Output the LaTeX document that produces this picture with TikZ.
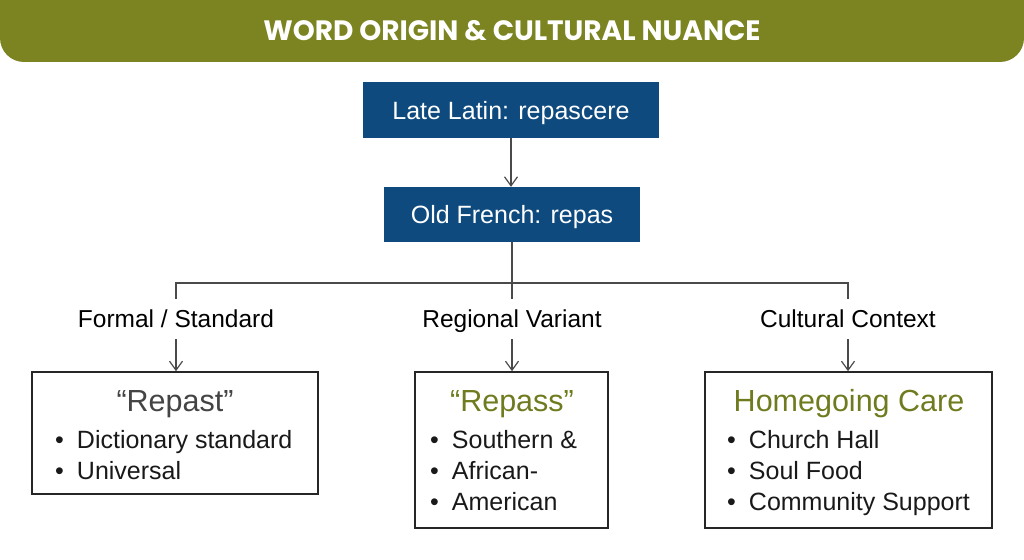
\documentclass[tikz,border=0pt]{standalone}
\usepackage{fontspec}
\setmainfont{Liberation Sans}
\newfontfamily\titlefont{Poppins}
\usetikzlibrary{arrows.meta}
\definecolor{bannerolive}{HTML}{7B8420}
\definecolor{headolive}{HTML}{6F7B1E}
\definecolor{boxblue}{HTML}{0E4A7E}
\definecolor{linkgray}{HTML}{4A4A4A}
\definecolor{inkgray}{HTML}{444444}

\begin{document}
\begin{tikzpicture}[x=1pt, y=-1pt, %
    stage/.style={fill=boxblue, text=white, font=\fontsize{25}{30}\selectfont, minimum height=56, inner sep=0pt, text height=18pt, text depth=0pt}, %
    branch/.style={font=\fontsize{24.5}{30}\selectfont, text height=19pt, text depth=3pt, inner xsep=0pt, inner ysep=9pt, anchor=base}, %
    card/.style={draw=black!85, line width=1.6pt, inner sep=0pt}, %
    cardhead/.style={font=\fontsize{30.5}{36}\selectfont, anchor=base, inner sep=0pt}, %
    item/.style={font=\fontsize{25}{31}\selectfont, text=black!90, anchor=base west, inner sep=0pt}, %
    link/.style={draw=linkgray, line width=1.2pt}, %
    arrowlink/.style={-{Straight Barb[length=9pt,width=13pt]}}, %
    ]
    \useasboundingbox (0,0) rectangle (1024,559);

    % banner
    \fill[bannerolive, rounded corners=24pt] (0,-40) rectangle (1024,62);
    \node[font=\titlefont\bfseries\fontsize{28}{32}\selectfont, text=white] (title) at (512,31) {WORD ORIGIN \& CULTURAL NUANCE};

    \node[stage, minimum width=296] (latin) at (511,110) {Late Latin: repascere};
    \node[stage, minimum width=256, minimum height=55] (french) at (512,214.5) {Old French: repas};

    \foreach \n/\x/\lab in { %
      formal/176/{Formal / Standard}, %
      regional/512/{Regional Variant}, %
      cultural/848/{Cultural Context}%
    }{ \node[branch] (\n) at (\x,327) {\lab}; }

    \foreach \n/\x/\y/\w/\h in { %
      repast/175/433/286/122, %
      repass/511.5/450/193/156, %
      homegoing/848.5/450/287/156%
    }{ \node[card, minimum width=\w, minimum height=\h] (\n) at (\x,\y) {}; }

    \foreach \n/\x/\col/\lab in { %
      repasthead/175/inkgray/{``Repast''}, %
      repasshead/512/headolive/{``Repass''}, %
      homegoinghead/849/headolive/{Homegoing Care}%
    }{ \node[cardhead, text=\col] (\n) at (\x,411.5) {\lab}; }

    \foreach \n/\x/\y/\txt in { %
      repast1/55/448/{Dictionary standard}, repast2/55/479/{Universal}, %
      repass1/430/448/{Southern \&}, repass2/430/479/{African-}, repass3/430/510/{American}, %
      home1/727/448/{Church Hall}, home2/727/479/{Soul Food}, home3/727/510/{Community Support}%
    }{ \node[item] (\n) at (\x,\y) {\textbullet\hspace{13pt}\txt}; }

    \coordinate (split) at (512,283);
    \draw[link, arrowlink] (latin.south) -- (latin.south |- french.north);
    \draw[link] (french.south) -- (regional.north);
    \draw[link] (formal.north) |- (split) -| (cultural.north);
    \foreach \from/\to in {formal/repast, regional/repass, cultural/homegoing}{ %
      \draw[link, arrowlink] (\from.south) -- (\from.south |- \to.north);
    }
\end{tikzpicture}
\end{document}
